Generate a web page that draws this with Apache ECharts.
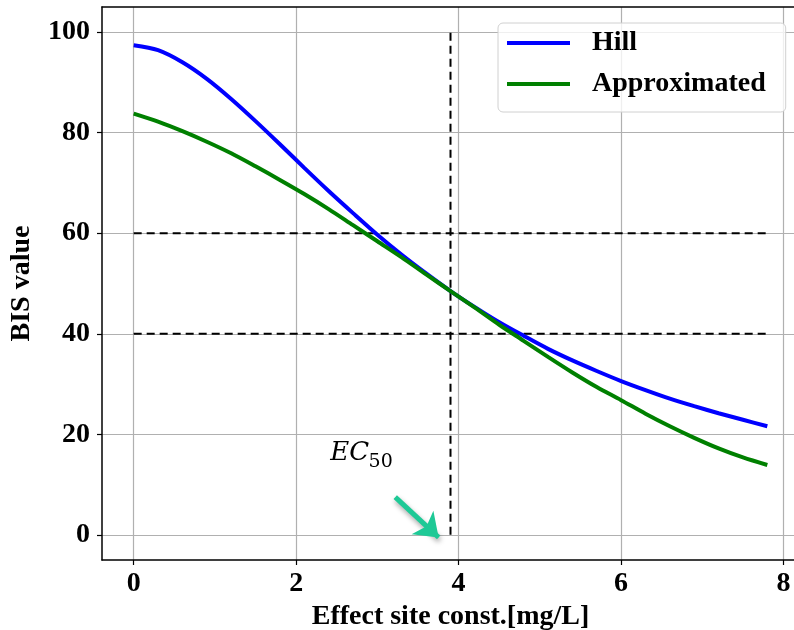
<!DOCTYPE html>
<html>
<head>
<meta charset="utf-8">
<title>BIS value</title>
<script src="https://cdn.jsdelivr.net/npm/echarts@6/dist/echarts.min.js"></script>
<style>
  html, body { margin: 0; padding: 0; background: #fff; }
  #chart { width: 794px; height: 630px; }
</style>
</head>
<body>
<div id="chart"></div>
<script>
// 效应室浓度 (mg/L)
const conc = [0, 0.3, 0.6, 0.9, 1.2, 1.5, 1.8, 2.1, 2.4, 2.7, 3.0, 3.3, 3.6, 3.9,
  4.2, 4.5, 4.8, 5.1, 5.4, 5.7, 6.0, 6.3, 6.6, 6.9, 7.2, 7.5, 7.8]
const hill = [97.4, 96.4, 94.0, 90.7, 86.7, 82.3, 77.7, 73.0, 68.4, 64.0, 59.7, 55.7, 52.0, 48.5,
  45.3, 42.3, 39.6, 37.0, 34.7, 32.6, 30.6, 28.8, 27.1, 25.6, 24.2, 22.9, 21.6]
const approx = [83.8, 82.2, 80.3, 78.2, 75.9, 73.3, 70.6, 67.8, 64.8, 61.6, 58.4, 55.2, 51.8, 48.5,
  45.2, 41.8, 38.6, 35.4, 32.3, 29.4, 26.8, 24.1, 21.6, 19.3, 17.2, 15.4, 13.9]

const xTicks = [0, 2, 4, 6, 8]
const yTicks = [0, 20, 40, 60, 80, 100]

// 参考虚线
const ec50Line = [[3.9, 0], [3.9, 100]]
const upperLine = [[0, 60], [7.8, 60]]
const lowerLine = [[0, 40], [7.8, 40]]
// 标注: EC50 文字与箭头
const ec50Text = [2.66, 16.2]
const ec50Sub = [3.04, 14.45]
const arrowFrom = [3.22, 7.5]
const arrowTo = [3.754, -0.5]

const serif = 'Liberation Serif'
const pair = (xs, ys) => xs.map((x, i) => [x, ys[i]])

const dashed = (name, data) => ({
  name: name,
  type: 'line',
  data: data,
  symbol: 'none',
  silent: true,
  z: 3,
  lineStyle: { color: '#000', width: 2, type: [8, 5] }
})

const chart = echarts.init(document.getElementById('chart'))
const option = {
  animation: false,
  grid: {
    left: 102, top: 7, width: 697, height: 553,
    outerBoundsMode: 'none',
    containLabel: false
  },
  legend: {
    data: ['Hill', 'Approximated'],
    orient: 'vertical',
    left: 498,
    top: 23,
    icon: 'rect',
    itemWidth: 63,
    itemHeight: 4,
    itemGap: 11,
    padding: [5, 20, 13, 9],
    backgroundColor: 'rgba(255,255,255,0.8)',
    borderColor: '#d0d0d0',
    borderWidth: 1,
    borderRadius: 5,
    textStyle: {
      fontFamily: serif, fontWeight: 'bold', fontSize: 28, color: '#000',
      lineHeight: 30, padding: [0, 0, 0, 17]
    }
  },
  xAxis: [
    {
      type: 'value',
      min: -0.39,
      max: 8.19,
      name: 'Effect site const.[mg/L]',
      nameLocation: 'middle',
      nameGap: 38,
      nameTextStyle: { fontFamily: serif, fontWeight: 'bold', fontSize: 28, color: '#000' },
      axisLine: { show: true, onZero: false, lineStyle: { color: '#000', width: 1.5 } },
      axisTick: { show: true, length: 5, customValues: xTicks, lineStyle: { color: '#000', width: 1.2 } },
      axisLabel: { customValues: xTicks, margin: 10, fontFamily: serif, fontWeight: 'bold', fontSize: 28, color: '#000' },
      splitLine: { show: true, lineStyle: { color: '#b0b0b0', width: 1.2 } }
    },
    {
      // 上边框
      type: 'value',
      position: 'top',
      min: -0.39,
      max: 8.19,
      axisLine: { show: true, onZero: false, lineStyle: { color: '#000', width: 1.5 } },
      axisTick: { show: false },
      axisLabel: { show: false },
      splitLine: { show: false }
    }
  ],
  yAxis: {
    type: 'value',
    min: -5,
    max: 105,
    name: 'BIS value',
    nameLocation: 'middle',
    nameGap: 66,
    nameTextStyle: { fontFamily: serif, fontWeight: 'bold', fontSize: 28, color: '#000' },
    axisLine: { show: true, onZero: false, lineStyle: { color: '#000', width: 1.5 } },
    axisTick: { show: true, length: 5, customValues: yTicks, lineStyle: { color: '#000', width: 1.2 } },
    axisLabel: { customValues: yTicks, margin: 12, fontFamily: serif, fontWeight: 'bold', fontSize: 28, color: '#000' },
    splitLine: { show: true, lineStyle: { color: '#b0b0b0', width: 1.2 } }
  },
  series: [
    dashed('ec50', ec50Line),
    dashed('upper', upperLine),
    dashed('lower', lowerLine),
    {
      name: 'Hill',
      type: 'line',
      data: pair(conc, hill),
      symbol: 'none',
      smooth: 0.3,
      z: 4,
      lineStyle: { color: '#0000ff', width: 4 },
      itemStyle: { color: '#0000ff' }
    },
    {
      name: 'Approximated',
      type: 'line',
      data: pair(conc, approx),
      symbol: 'none',
      smooth: 0.3,
      z: 4,
      lineStyle: { color: '#008000', width: 4 },
      itemStyle: { color: '#008000' },
      markPoint: {
        silent: true,
        symbol: 'circle',
        symbolSize: 0,
        data: [
          {
            coord: ec50Text,
            label: { show: true, position: 'inside', formatter: 'EC', fontFamily: 'DejaVu Serif', fontStyle: 'italic', fontSize: 26, color: '#000' }
          },
          {
            coord: ec50Sub,
            label: { show: true, position: 'inside', formatter: '50', fontFamily: 'DejaVu Serif', fontSize: 19, color: '#000' }
          }
        ]
      },
      markLine: {
        silent: true,
        symbol: ['none', 'arrow'],
        symbolSize: [24, 22],
        label: { show: false },
        lineStyle: {
          color: '#1ec996', width: 5, type: 'solid',
          shadowColor: 'rgba(0,0,0,0.35)', shadowBlur: 5, shadowOffsetX: 1, shadowOffsetY: 3
        },
        data: [[{ coord: arrowFrom }, { coord: arrowTo }]]
      }
    }
  ]
}
chart.setOption(option)
</script>
</body>
</html>
